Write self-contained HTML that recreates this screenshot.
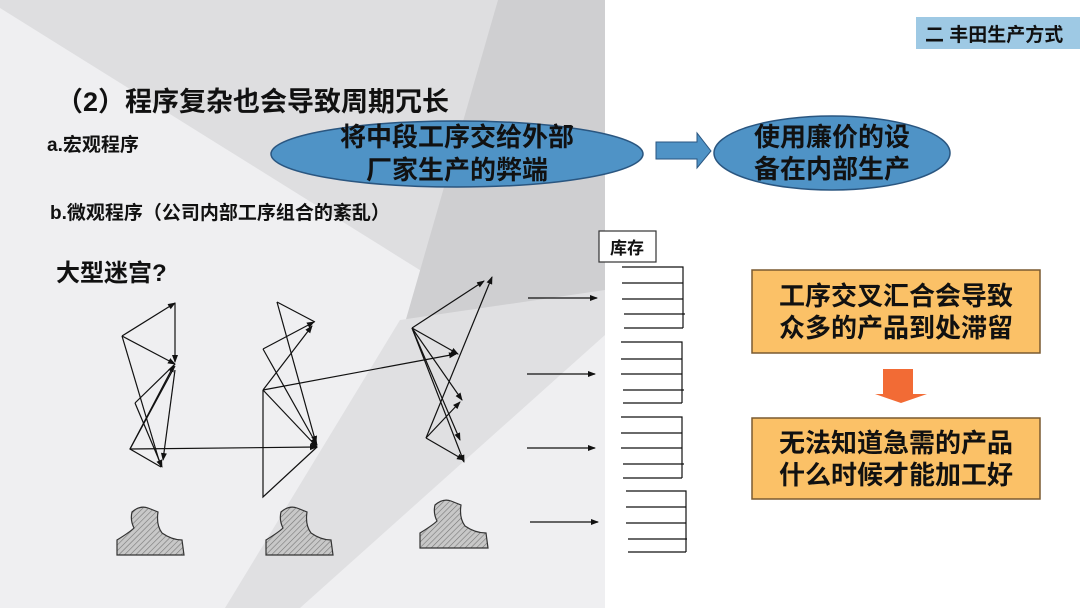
<!DOCTYPE html>
<html><head><meta charset="utf-8"><style>
html,body{margin:0;padding:0;background:#fff}
svg{display:block}
text{font-family:"Liberation Sans","Noto Sans CJK SC",sans-serif;font-weight:bold;fill:#111}
</style></head><body>
<svg width="1080" height="608" viewBox="0 0 1080 608" xmlns="http://www.w3.org/2000/svg">
<defs>
<pattern id="h" width="4" height="4" patternUnits="userSpaceOnUse" patternTransform="rotate(45)">
<rect width="4" height="4" fill="#c8c8c8"/><line x1="0" y1="0" x2="0" y2="4" stroke="#777" stroke-width="1.2"/></pattern>
<marker id="a" markerWidth="8" markerHeight="8" refX="7" refY="4" orient="auto" markerUnits="userSpaceOnUse"><path d="M0,1 L8,4 L0,7 z" fill="#111"/></marker>
</defs>
<rect x="0" y="0" width="605" height="608" fill="#efeff1"/>
<polygon points="0,0 605,0 605,300 455,292 0,8" fill="#dedee0"/>
<polygon points="498,0 605,0 605,300 440,320 400,340" fill="#cfcfd1"/>
<polygon points="400,320 605,290 605,335 300,608 225,608" fill="#e0e0e2"/>
<rect x="605" y="0" width="475" height="608" fill="#fff"/>

<text x="56" y="111" font-size="27">（2）程序复杂也会导致周期冗长</text>
<text x="47" y="151" font-size="19">a.宏观程序</text>
<text x="50" y="219" font-size="19">b.微观程序（公司内部工序组合的紊乱）</text>
<text x="56" y="281" font-size="24">大型迷宫?</text>

<ellipse cx="457" cy="154" rx="186" ry="33" fill="#4f93c6" stroke="#2a5680" stroke-width="1.5"/>
<text x="457" y="146" font-size="26" text-anchor="middle">将中段工序交给外部</text>
<text x="457" y="179" font-size="26" text-anchor="middle">厂家生产的弊端</text>
<polygon points="656,142 697,142 697,133 711,151 697,168 697,159 656,159" fill="#4f93c6" stroke="#2a5680" stroke-width="1"/>
<ellipse cx="832" cy="153" rx="118" ry="37" fill="#4f93c6" stroke="#2a5680" stroke-width="1.5"/>
<text x="832" y="146" font-size="26" text-anchor="middle">使用廉价的设</text>
<text x="832" y="178" font-size="26" text-anchor="middle">备在内部生产</text>

<rect x="916" y="17" width="164" height="32" fill="#9ec9e4"/>
<text x="925" y="41" font-size="19">二 丰田生产方式</text>

<rect x="752" y="270" width="288" height="83" fill="#fbc167" stroke="#7a5a30" stroke-width="1.5"/>
<text x="896" y="305" font-size="26" text-anchor="middle">工序交叉汇合会导致</text>
<text x="896" y="337" font-size="26" text-anchor="middle">众多的产品到处滞留</text>
<polygon points="883,369 913,369 913,394 927,394 901,403 875,394 883,394" fill="#f26b35"/>
<rect x="752" y="418" width="288" height="81" fill="#fbc167" stroke="#7a5a30" stroke-width="1.5"/>
<text x="896" y="452" font-size="26" text-anchor="middle">无法知道急需的产品</text>
<text x="896" y="484" font-size="26" text-anchor="middle">什么时候才能加工好</text>

<rect x="599" y="231" width="57" height="31" fill="#fff" stroke="#333" stroke-width="1.2"/>
<text x="627" y="254" font-size="17" text-anchor="middle">库存</text>

<g stroke="#111" stroke-width="1.2" fill="none">
<path d="M622,267H683V328 M622,283H683 M622,299H683 M624,314H685 M624,328H683"/>
<path d="M621,342H682V403 M621,359H682 M621,374H682 M623,390H684 M623,403H682"/>
<path d="M621,417H682V478 M621,433H682 M621,448H682 M623,464H684 M623,478H682"/>
<path d="M626,491H686V552 M626,507H686 M626,523H686 M628,539H687 M628,552H686"/>
<g marker-end="url(#a)">
<line x1="528" y1="298" x2="597" y2="298"/>
<line x1="527" y1="374" x2="595" y2="374"/>
<line x1="527" y1="448" x2="595" y2="448"/>
<line x1="530" y1="522" x2="598" y2="522"/>
</g>
<g marker-end="url(#a)">
<line x1="122" y1="336" x2="175" y2="303"/>
<line x1="175" y1="303" x2="175" y2="362"/>
<line x1="122" y1="336" x2="175" y2="364"/>
<line x1="175" y1="370" x2="163" y2="460"/>
<line x1="130" y1="449" x2="317" y2="447"/>
<line x1="135" y1="403" x2="162" y2="467"/>
<line x1="130" y1="449" x2="174" y2="365"/>
</g>
<polyline points="122,336 161,467"/>
<polyline points="175,364 135,403"/>
<polyline points="175,366 130,449 161,467"/>
<g marker-end="url(#a)">
<line x1="263" y1="349" x2="314" y2="322"/>
<line x1="263" y1="390" x2="312" y2="326"/>
<line x1="263" y1="390" x2="317" y2="447"/>
<line x1="263" y1="349" x2="317" y2="445"/>
<line x1="277" y1="302" x2="316" y2="443"/>
<line x1="263" y1="390" x2="456" y2="354"/>
</g>
<polyline points="277,302 315,322"/>
<polyline points="263,390 263,497 317,447"/>
<g marker-end="url(#a)">
<line x1="412" y1="328" x2="484" y2="281"/>
<line x1="412" y1="328" x2="458" y2="354"/>
<line x1="412" y1="328" x2="462" y2="400"/>
<line x1="412" y1="328" x2="464" y2="462"/>
<line x1="426" y1="438" x2="492" y2="277"/>
<line x1="426" y1="438" x2="460" y2="402"/>
<line x1="426" y1="438" x2="464" y2="460"/>
<line x1="412" y1="328" x2="460" y2="440"/>
</g>
</g>
<g fill="url(#h)" stroke="#333" stroke-width="1.2">
<path d="M117,555 L117,540 Q130,532 134,528 Q130,520 132,512 Q140,505 148,508 L158,512 Q156,525 162,533 Q172,540 182,540 L184,555 Z"/>
<path d="M266,555 L266,540 Q279,532 283,528 Q279,520 281,512 Q289,505 297,508 L307,512 Q305,525 311,533 Q321,540 331,540 L333,555 Z"/>
<path d="M420,548 L420,533 Q433,525 437,521 Q433,513 435,505 Q443,498 451,501 L461,505 Q459,518 465,526 Q475,533 486,533 L488,548 Z"/>
</g>
</svg>
</body></html>
